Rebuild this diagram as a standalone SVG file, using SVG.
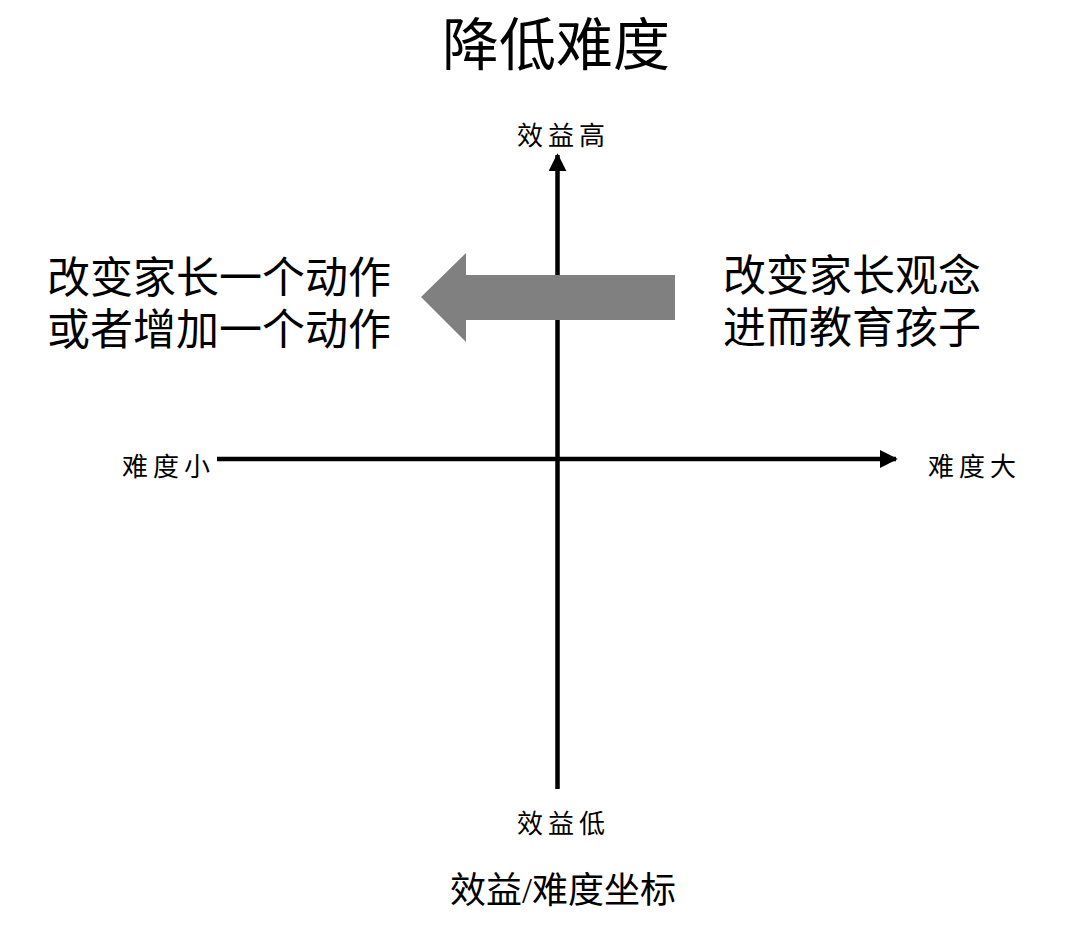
<svg xmlns="http://www.w3.org/2000/svg" width="1080" height="926" viewBox="0 0 1080 926">
<style>
.t{font-family:"Noto Sans CJK SC","Liberation Sans",sans-serif;fill:#000}
.s{font-family:"Liberation Serif","Noto Sans CJK SC",serif;fill:#000}
.ax{font-size:26px;letter-spacing:5px}
.big{font-size:43px}
.axis{stroke:#000;stroke-width:4.5;fill:none}
</style>
<defs>
<marker id="ah" viewBox="0 0 10 10" refX="9" refY="5" markerWidth="4" markerHeight="4" markerUnits="strokeWidth" orient="auto">
<path d="M0,0 L10,5 L0,10 Z" fill="#000"/>
</marker>
</defs>
<rect width="1080" height="926" fill="#fff"/>
<g id="title"><text class="t" x="556" y="65" font-size="57" text-anchor="middle">降低难度</text></g>
<g id="connectors">
<line class="axis" x1="557.5" y1="789" x2="557.5" y2="155" marker-end="url(#ah)"/>
<line class="axis" x1="217" y1="459" x2="896" y2="459" marker-end="url(#ah)"/>
<path id="gray-arrow" d="M675,275 L466,275 L466,253 L421,297 L466,342 L466,320 L675,320 Z" fill="#808080"/>
</g>
<g id="label-top"><text class="s ax" x="517" y="145">效益高</text></g>
<g id="label-bottom"><text class="s ax" x="517" y="833">效益低</text></g>
<g id="label-left"><text class="s ax" x="122" y="476">难度小</text></g>
<g id="label-right"><text class="s ax" x="928" y="476">难度大</text></g>
<g id="left-text">
<text class="s big" x="47" y="293">改变家长一个动作</text>
<text class="s big" x="47" y="345">或者增加一个动作</text>
</g>
<g id="right-text">
<text class="s big" x="723" y="291">改变家长观念</text>
<text class="s big" x="723" y="343">进而教育孩子</text>
</g>
<g id="caption"><text class="s" x="563" y="903" font-size="36" text-anchor="middle">效益/难度坐标</text></g>
</svg>
